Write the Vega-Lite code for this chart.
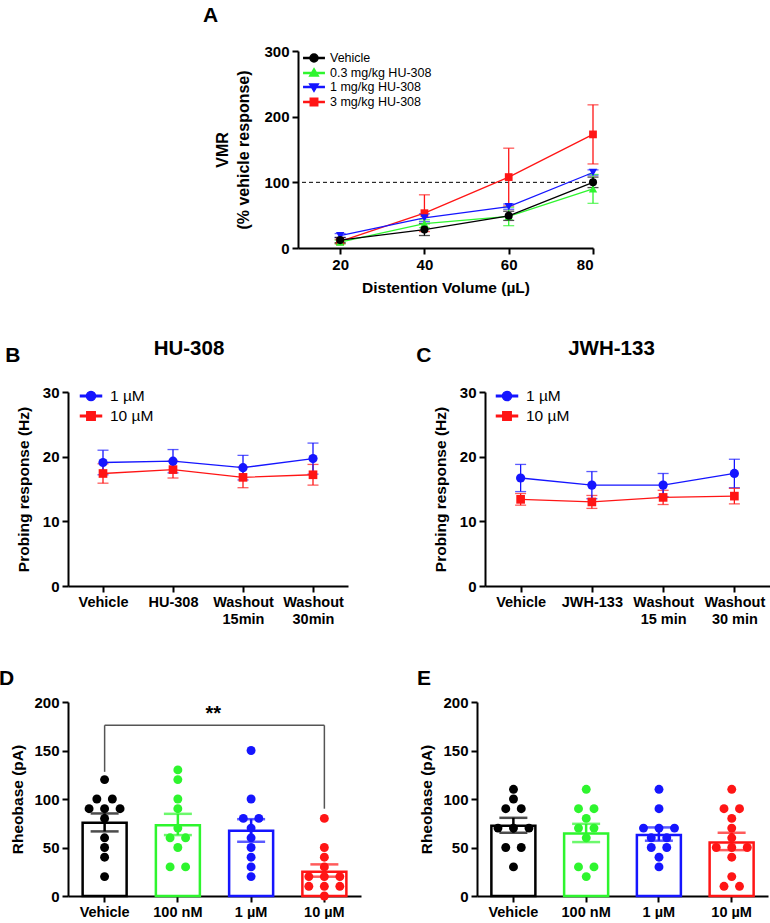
{
  "$schema": "https://vega.github.io/schema/vega-lite/v6.json",
  "background": "white",
  "padding": {"left": -2, "top": 5, "right": 0, "bottom": 0},
  "config": {
    "font": "Liberation Sans",
    "view": {"stroke": null},
    "axis": {"grid": false, "domainColor": "#000", "domainWidth": 2, "tickColor": "#000", "tickWidth": 2, "tickSize": 6, "labelFont": "Liberation Sans", "labelFontWeight": "bold", "labelFontSize": 15, "labelColor": "#000", "labelPadding": 3, "titleFont": "Liberation Sans", "titleFontWeight": "bold", "titleFontSize": 15.5, "titleColor": "#000"},
    "axisX": {"labelAngle": 0, "labelFontSize": 14.5},
    "title": {"font": "Liberation Sans", "fontWeight": "bold", "color": "#000"},
    "legend": {"labelFont": "Liberation Sans", "labelColor": "#000"}
  },
  "datasets": {
    "A": [
      {"group": "3 mg/kg HU-308", "volume": 20, "mean": 10, "lo": 7, "hi": 13},
      {"group": "3 mg/kg HU-308", "volume": 40, "mean": 53, "lo": 25, "hi": 81},
      {"group": "3 mg/kg HU-308", "volume": 60, "mean": 108, "lo": 64, "hi": 152},
      {"group": "3 mg/kg HU-308", "volume": 80, "mean": 173, "lo": 128, "hi": 218},
      {"group": "1 mg/kg HU-308", "volume": 20, "mean": 19, "lo": 16, "hi": 22},
      {"group": "1 mg/kg HU-308", "volume": 40, "mean": 46, "lo": 40, "hi": 52},
      {"group": "1 mg/kg HU-308", "volume": 60, "mean": 63, "lo": 59, "hi": 67},
      {"group": "1 mg/kg HU-308", "volume": 80, "mean": 115, "lo": 111, "hi": 119},
      {"group": "0.3 mg/kg HU-308", "volume": 20, "mean": 9, "lo": 6, "hi": 12},
      {"group": "0.3 mg/kg HU-308", "volume": 40, "mean": 37, "lo": 31, "hi": 43},
      {"group": "0.3 mg/kg HU-308", "volume": 60, "mean": 48, "lo": 34, "hi": 62},
      {"group": "0.3 mg/kg HU-308", "volume": 80, "mean": 90, "lo": 68, "hi": 112},
      {"group": "Vehicle", "volume": 20, "mean": 12, "lo": 8, "hi": 16},
      {"group": "Vehicle", "volume": 40, "mean": 28, "lo": 19, "hi": 37},
      {"group": "Vehicle", "volume": 60, "mean": 49, "lo": 42, "hi": 56},
      {"group": "Vehicle", "volume": 80, "mean": 100, "lo": 92, "hi": 108}
    ],
    "B": [
      {"conc": "10 µM", "cond": "Vehicle", "mean": 17.4, "lo": 15.9, "hi": 18.9},
      {"conc": "10 µM", "cond": "HU-308", "mean": 18.0, "lo": 16.7, "hi": 19.3},
      {"conc": "10 µM", "cond": "Washout\n15min", "mean": 16.8, "lo": 15.2, "hi": 18.4},
      {"conc": "10 µM", "cond": "Washout\n30min", "mean": 17.2, "lo": 15.6, "hi": 18.8},
      {"conc": "1 µM", "cond": "Vehicle", "mean": 19.1, "lo": 17.2, "hi": 21.0},
      {"conc": "1 µM", "cond": "HU-308", "mean": 19.3, "lo": 17.5, "hi": 21.1},
      {"conc": "1 µM", "cond": "Washout\n15min", "mean": 18.3, "lo": 16.4, "hi": 20.2},
      {"conc": "1 µM", "cond": "Washout\n30min", "mean": 19.7, "lo": 17.3, "hi": 22.1}
    ],
    "C": [
      {"conc": "10 µM", "cond": "Vehicle", "mean": 13.4, "lo": 12.5, "hi": 14.3},
      {"conc": "10 µM", "cond": "JWH-133", "mean": 13.0, "lo": 12.0, "hi": 14.0},
      {"conc": "10 µM", "cond": "Washout\n15 min", "mean": 13.7, "lo": 12.6, "hi": 14.8},
      {"conc": "10 µM", "cond": "Washout\n30 min", "mean": 13.9, "lo": 12.7, "hi": 15.1},
      {"conc": "1 µM", "cond": "Vehicle", "mean": 16.7, "lo": 14.6, "hi": 18.8},
      {"conc": "1 µM", "cond": "JWH-133", "mean": 15.6, "lo": 13.5, "hi": 17.7},
      {"conc": "1 µM", "cond": "Washout\n15 min", "mean": 15.6, "lo": 13.8, "hi": 17.4},
      {"conc": "1 µM", "cond": "Washout\n30 min", "mean": 17.4, "lo": 15.2, "hi": 19.6}
    ],
    "Dbar": [
      {"cond": "Vehicle", "mean": 75.5, "lo": 66.6, "hi": 85.1},
      {"cond": "100 nM", "mean": 73, "lo": 62.8, "hi": 84.7},
      {"cond": "1 µM", "mean": 67.2, "lo": 55.9, "hi": 79.2},
      {"cond": "10 µM", "mean": 25, "lo": 19.9, "hi": 32.6}
    ],
    "Dpts": [
      {"cond": "Vehicle", "value": 120}, {"cond": "Vehicle", "value": 100}, {"cond": "Vehicle", "value": 100},
      {"cond": "Vehicle", "value": 90}, {"cond": "Vehicle", "value": 90}, {"cond": "Vehicle", "value": 90},
      {"cond": "Vehicle", "value": 80}, {"cond": "Vehicle", "value": 60}, {"cond": "Vehicle", "value": 50},
      {"cond": "Vehicle", "value": 40}, {"cond": "Vehicle", "value": 20},
      {"cond": "100 nM", "value": 130}, {"cond": "100 nM", "value": 120}, {"cond": "100 nM", "value": 100},
      {"cond": "100 nM", "value": 90}, {"cond": "100 nM", "value": 70}, {"cond": "100 nM", "value": 60},
      {"cond": "100 nM", "value": 60}, {"cond": "100 nM", "value": 50}, {"cond": "100 nM", "value": 30},
      {"cond": "100 nM", "value": 30},
      {"cond": "1 µM", "value": 150}, {"cond": "1 µM", "value": 100}, {"cond": "1 µM", "value": 80},
      {"cond": "1 µM", "value": 80}, {"cond": "1 µM", "value": 70}, {"cond": "1 µM", "value": 60},
      {"cond": "1 µM", "value": 50}, {"cond": "1 µM", "value": 40}, {"cond": "1 µM", "value": 30},
      {"cond": "1 µM", "value": 20},
      {"cond": "10 µM", "value": 80}, {"cond": "10 µM", "value": 50}, {"cond": "10 µM", "value": 40},
      {"cond": "10 µM", "value": 30}, {"cond": "10 µM", "value": 20}, {"cond": "10 µM", "value": 20},
      {"cond": "10 µM", "value": 20}, {"cond": "10 µM", "value": 10}, {"cond": "10 µM", "value": 10},
      {"cond": "10 µM", "value": 10}, {"cond": "10 µM", "value": 0}
    ],
    "Ebar": [
      {"cond": "Vehicle", "mean": 72.4, "lo": 65.2, "hi": 80.6},
      {"cond": "100 nM", "mean": 64.5, "lo": 55.6, "hi": 74.4},
      {"cond": "1 µM", "mean": 62.8, "lo": 57, "hi": 70.7},
      {"cond": "10 µM", "mean": 55.2, "lo": 47.3, "hi": 65.2}
    ],
    "Epts": [
      {"cond": "Vehicle", "value": 110}, {"cond": "Vehicle", "value": 100}, {"cond": "Vehicle", "value": 90},
      {"cond": "Vehicle", "value": 90}, {"cond": "Vehicle", "value": 70}, {"cond": "Vehicle", "value": 70},
      {"cond": "Vehicle", "value": 70}, {"cond": "Vehicle", "value": 50}, {"cond": "Vehicle", "value": 50},
      {"cond": "Vehicle", "value": 30},
      {"cond": "100 nM", "value": 110}, {"cond": "100 nM", "value": 90}, {"cond": "100 nM", "value": 90},
      {"cond": "100 nM", "value": 80}, {"cond": "100 nM", "value": 70}, {"cond": "100 nM", "value": 70},
      {"cond": "100 nM", "value": 60}, {"cond": "100 nM", "value": 30}, {"cond": "100 nM", "value": 30},
      {"cond": "100 nM", "value": 20},
      {"cond": "1 µM", "value": 110}, {"cond": "1 µM", "value": 90}, {"cond": "1 µM", "value": 70},
      {"cond": "1 µM", "value": 70}, {"cond": "1 µM", "value": 70}, {"cond": "1 µM", "value": 60},
      {"cond": "1 µM", "value": 60}, {"cond": "1 µM", "value": 50}, {"cond": "1 µM", "value": 50},
      {"cond": "1 µM", "value": 40}, {"cond": "1 µM", "value": 30},
      {"cond": "10 µM", "value": 110}, {"cond": "10 µM", "value": 90}, {"cond": "10 µM", "value": 90},
      {"cond": "10 µM", "value": 80}, {"cond": "10 µM", "value": 70}, {"cond": "10 µM", "value": 60},
      {"cond": "10 µM", "value": 50}, {"cond": "10 µM", "value": 50}, {"cond": "10 µM", "value": 50},
      {"cond": "10 µM", "value": 40}, {"cond": "10 µM", "value": 20}, {"cond": "10 µM", "value": 10},
      {"cond": "10 µM", "value": 10}
    ]
  },
  "resolve": {"scale": {"color": "independent", "shape": "independent", "stroke": "independent"}},
  "spacing": 42,
  "vconcat": [
    {
      "spacing": 0,
      "resolve": {"scale": {"color": "independent", "shape": "independent"}},
      "hconcat": [
        {"width": 134, "height": 10, "data": {"values": [{}]}, "mark": {"type": "point", "opacity": 0}, "encoding": {}},
        {
          "title": {"text": "A", "anchor": "start", "frame": "bounds", "fontSize": 21, "offset": 18, "dx": -12},
          "width": 295,
          "height": 197,
          "data": {"name": "A"},
          "encoding": {
            "x": {"field": "volume", "type": "quantitative", "scale": {"domain": [10, 80], "nice": false}, "axis": {"values": [20, 40, 60, 80], "titlePadding": 8, "labelFontSize": 15}, "title": "Distention Volume (µL)"},
            "color": {"field": "group", "type": "nominal", "scale": {"domain": ["Vehicle", "0.3 mg/kg HU-308", "1 mg/kg HU-308", "3 mg/kg HU-308"], "range": ["#000000", "#2ef52e", "#1515ff", "#ff1515"]}, "legend": {"title": null, "orient": "none", "legendX": 9, "legendY": 0, "symbolSize": 144, "labelFontSize": 12.5, "labelOffset": 9, "rowPadding": -7, "padding": 0, "symbolOpacity": 1}}
          },
          "layer": [
            {
              "data": {"values": [{"ref": 100}]},
              "mark": {"type": "rule", "strokeDash": [4, 3], "strokeWidth": 1, "color": "#000"},
              "encoding": {"x": null, "color": null, "y": {"field": "ref", "type": "quantitative", "scale": {"domain": [0, 300], "nice": false}, "axis": {"values": [0, 100, 200, 300], "titleFontSize": 16, "titlePadding": 12, "titleLineHeight": 21}, "title": ["VMR", "(% vehicle response)"]}}
            },
            {
              "mark": {"type": "errorbar", "ticks": true, "size": 11, "thickness": 1.3},
              "encoding": {
                "y": {"field": "lo", "type": "quantitative", "title": ["VMR", "(% vehicle response)"]},
                "y2": {"field": "hi"}
              }
            },
            {
              "mark": {"type": "line", "strokeWidth": 1.3},
              "encoding": {"y": {"field": "mean", "type": "quantitative", "title": ["VMR", "(% vehicle response)"]}}
            },
            {
              "transform": [{"filter": "datum.group === '3 mg/kg HU-308'"}],
              "mark": {"type": "point", "filled": true, "shape": "square", "size": 60, "opacity": 1},
              "encoding": {"y": {"field": "mean", "type": "quantitative", "title": ["VMR", "(% vehicle response)"]}}
            },
            {
              "transform": [{"filter": "datum.group === '1 mg/kg HU-308'"}],
              "mark": {"type": "point", "filled": true, "shape": "triangle-down", "size": 70, "opacity": 1},
              "encoding": {"y": {"field": "mean", "type": "quantitative", "title": ["VMR", "(% vehicle response)"]}}
            },
            {
              "transform": [{"filter": "datum.group === '0.3 mg/kg HU-308'"}],
              "mark": {"type": "point", "filled": true, "shape": "triangle-up", "size": 70, "opacity": 1},
              "encoding": {"y": {"field": "mean", "type": "quantitative", "title": ["VMR", "(% vehicle response)"]}}
            },
            {
              "transform": [{"filter": "datum.group === 'Vehicle'"}],
              "mark": {"type": "point", "filled": true, "shape": "circle", "size": 65, "opacity": 1},
              "encoding": {"y": {"field": "mean", "type": "quantitative", "title": ["VMR", "(% vehicle response)"]}}
            },
            {
              "mark": {"type": "point", "filled": true, "size": 65, "opacity": 0},
              "encoding": {
                "y": {"field": "mean", "type": "quantitative", "title": ["VMR", "(% vehicle response)"]},
                "shape": {"field": "group", "type": "nominal", "scale": {"domain": ["Vehicle", "0.3 mg/kg HU-308", "1 mg/kg HU-308", "3 mg/kg HU-308"], "range": [
                  "M-1.7,-0.1H-0.5V0.1H-1.7Z M0.5,-0.1H1.7V0.1H0.5Z M0.67,0A0.67,0.67,0,1,1,-0.67,0A0.67,0.67,0,1,1,0.67,0Z",
                  "M-1.7,-0.1H-0.5V0.1H-1.7Z M0.5,-0.1H1.7V0.1H0.5Z M0,-0.72L0.72,0.5L-0.72,0.5Z",
                  "M-1.7,-0.1H-0.5V0.1H-1.7Z M0.5,-0.1H1.7V0.1H0.5Z M0,0.72L-0.72,-0.5L0.72,-0.5Z",
                  "M-1.7,-0.1H-0.5V0.1H-1.7Z M0.5,-0.1H1.7V0.1H0.5Z M-0.62,-0.62H0.62V0.62H-0.62Z"
                ]}, "legend": {"title": null, "orient": "none", "legendX": 9, "legendY": 0, "symbolSize": 144, "labelFontSize": 12.5, "labelOffset": 9, "rowPadding": -7, "padding": 0, "symbolOpacity": 1}}
              }
            }
          ]
        }
      ]
    },
    {
      "spacing": 68,
      "resolve": {"scale": {"color": "independent", "shape": "independent"}},
      "hconcat": [
        {
          "title": {"text": "B", "anchor": "start", "frame": "bounds", "fontSize": 21, "dx": -11, "dy": 31},
          "resolve": {"scale": {"color": "independent", "shape": "independent"}},
          "vconcat": [
            {
              "title": {"text": "HU-308", "fontSize": 20.5, "dx": -19, "offset": 26},
              "width": 280,
              "height": 194,
              "data": {"name": "B"},
              "encoding": {
                "x": {"field": "cond", "type": "ordinal", "scale": {"type": "point", "padding": 0.5, "domain": ["Vehicle", "HU-308", "Washout\n15min", "Washout\n30min"]}, "axis": {"labelExpr": "split(datum.label, '\\n')", "title": null, "labelLineHeight": 17}},
                "color": {"field": "conc", "type": "nominal", "scale": {"domain": ["1 µM", "10 µM"], "range": ["#1515ff", "#ff1515"]}, "legend": {"title": null, "orient": "none", "legendX": 15, "legendY": -4, "symbolSize": 196, "labelFontSize": 15.5, "labelOffset": 11, "rowPadding": 3, "padding": 0, "symbolOpacity": 1}}
              },
              "layer": [
                {"mark": {"type": "errorbar", "ticks": true, "size": 11, "thickness": 1.3}, "encoding": {"y": {"field": "lo", "type": "quantitative", "scale": {"domain": [0, 30], "nice": false}, "axis": {"values": [0, 10, 20, 30], "titlePadding": 11}, "title": "Probing response (Hz)"}, "y2": {"field": "hi"}}},
                {"mark": {"type": "line", "strokeWidth": 1.3}, "encoding": {"y": {"field": "mean", "type": "quantitative", "title": "Probing response (Hz)"}}},
                {"transform": [{"filter": "datum.conc === '10 µM'"}], "mark": {"type": "point", "filled": true, "shape": "square", "size": 75, "opacity": 1}, "encoding": {"y": {"field": "mean", "type": "quantitative", "title": "Probing response (Hz)"}}},
                {"transform": [{"filter": "datum.conc === '1 µM'"}], "mark": {"type": "point", "filled": true, "shape": "circle", "size": 85, "opacity": 1}, "encoding": {"y": {"field": "mean", "type": "quantitative", "title": "Probing response (Hz)"}}},
                {"mark": {"type": "point", "filled": true, "size": 80, "opacity": 0},
                 "encoding": {
                   "y": {"field": "mean", "type": "quantitative", "title": "Probing response (Hz)"},
                   "shape": {"field": "conc", "type": "nominal", "scale": {"domain": ["1 µM", "10 µM"], "range": [
                     "M-1.5,-0.09H-0.5V0.09H-1.5Z M0.5,-0.09H1.5V0.09H0.5Z M0.65,0A0.65,0.65,0,1,1,-0.65,0A0.65,0.65,0,1,1,0.65,0Z",
                     "M-1.5,-0.09H-0.5V0.09H-1.5Z M0.5,-0.09H1.5V0.09H0.5Z M-0.6,-0.6H0.6V0.6H-0.6Z"
                   ]}, "legend": {"title": null, "orient": "none", "legendX": 15, "legendY": -4, "symbolSize": 196, "labelFontSize": 15.5, "labelOffset": 11, "rowPadding": 3, "padding": 0, "symbolOpacity": 1}}
                 }}
              ]
            }
          ]
        },
        {
          "title": {"text": "C", "anchor": "start", "frame": "bounds", "fontSize": 21, "dx": -17, "dy": 31},
          "resolve": {"scale": {"color": "independent", "shape": "independent"}},
          "vconcat": [
            {
              "title": {"text": "JWH-133", "fontSize": 20.5, "dx": -16, "offset": 26},
              "width": 285,
              "height": 194,
              "data": {"name": "C"},
              "encoding": {
                "x": {"field": "cond", "type": "ordinal", "scale": {"type": "point", "padding": 0.5, "domain": ["Vehicle", "JWH-133", "Washout\n15 min", "Washout\n30 min"]}, "axis": {"labelExpr": "split(datum.label, '\\n')", "title": null, "labelLineHeight": 17}},
                "color": {"field": "conc", "type": "nominal", "scale": {"domain": ["1 µM", "10 µM"], "range": ["#1515ff", "#ff1515"]}, "legend": {"title": null, "orient": "none", "legendX": 14, "legendY": -4, "symbolSize": 196, "labelFontSize": 15.5, "labelOffset": 11, "rowPadding": 3, "padding": 0, "symbolOpacity": 1}}
              },
              "layer": [
                {"mark": {"type": "errorbar", "ticks": true, "size": 11, "thickness": 1.3}, "encoding": {"y": {"field": "lo", "type": "quantitative", "scale": {"domain": [0, 30], "nice": false}, "axis": {"values": [0, 10, 20, 30], "titlePadding": 11}, "title": "Probing response (Hz)"}, "y2": {"field": "hi"}}},
                {"mark": {"type": "line", "strokeWidth": 1.3}, "encoding": {"y": {"field": "mean", "type": "quantitative", "title": "Probing response (Hz)"}}},
                {"transform": [{"filter": "datum.conc === '10 µM'"}], "mark": {"type": "point", "filled": true, "shape": "square", "size": 75, "opacity": 1}, "encoding": {"y": {"field": "mean", "type": "quantitative", "title": "Probing response (Hz)"}}},
                {"transform": [{"filter": "datum.conc === '1 µM'"}], "mark": {"type": "point", "filled": true, "shape": "circle", "size": 85, "opacity": 1}, "encoding": {"y": {"field": "mean", "type": "quantitative", "title": "Probing response (Hz)"}}},
                {"mark": {"type": "point", "filled": true, "size": 80, "opacity": 0},
                 "encoding": {
                   "y": {"field": "mean", "type": "quantitative", "title": "Probing response (Hz)"},
                   "shape": {"field": "conc", "type": "nominal", "scale": {"domain": ["1 µM", "10 µM"], "range": [
                     "M-1.5,-0.09H-0.5V0.09H-1.5Z M0.5,-0.09H1.5V0.09H0.5Z M0.65,0A0.65,0.65,0,1,1,-0.65,0A0.65,0.65,0,1,1,0.65,0Z",
                     "M-1.5,-0.09H-0.5V0.09H-1.5Z M0.5,-0.09H1.5V0.09H0.5Z M-0.6,-0.6H0.6V0.6H-0.6Z"
                   ]}, "legend": {"title": null, "orient": "none", "legendX": 14, "legendY": -4, "symbolSize": 196, "labelFontSize": 15.5, "labelOffset": 11, "rowPadding": 3, "padding": 0, "symbolOpacity": 1}}
                 }}
              ]
            }
          ]
        }
      ]
    },
    {
      "spacing": 55,
      "resolve": {"scale": {"color": "independent", "shape": "independent", "stroke": "independent"}},
      "hconcat": [
        {
          "title": {"text": "D", "anchor": "start", "frame": "bounds", "fontSize": 21, "dx": -12, "offset": 6},
          "width": 293,
          "height": 194,
          "layer": [
            {
              "data": {"name": "Dbar"},
              "mark": {"type": "bar", "fill": "white", "strokeWidth": 2.5, "width": 44},
              "encoding": {
                "x": {"field": "cond", "type": "nominal", "scale": {"domain": ["Vehicle", "100 nM", "1 µM", "10 µM"], "paddingInner": 0.36, "paddingOuter": 0.18}, "axis": {"title": null}},
                "y": {"field": "mean", "type": "quantitative", "scale": {"domain": [0, 200], "nice": false}, "axis": {"values": [0, 50, 100, 150, 200], "titlePadding": 8}, "title": "Rheobase (pA)"},
                "stroke": {"field": "cond", "type": "nominal", "scale": {"domain": ["Vehicle", "100 nM", "1 µM", "10 µM"], "range": ["#000000", "#2ef52e", "#1515ff", "#ff1515"]}, "legend": null}
              }
            },
            {
              "data": {"name": "Dbar"},
              "mark": {"type": "errorbar", "ticks": true, "size": 28, "thickness": 2.5},
              "encoding": {
                "x": {"field": "cond", "type": "nominal", "title": null},
                "y": {"field": "lo", "type": "quantitative", "title": "Rheobase (pA)"},
                "y2": {"field": "hi"},
                "color": {"field": "cond", "type": "nominal", "scale": {"domain": ["Vehicle", "100 nM", "1 µM", "10 µM"], "range": ["#000000", "#2ef52e", "#1515ff", "#ff1515"]}, "legend": null}
              }
            },
            {
              "data": {"name": "Dpts"},
              "transform": [
                {"window": [{"op": "row_number", "as": "k"}], "groupby": ["cond", "value"]},
                {"joinaggregate": [{"op": "count", "as": "n"}], "groupby": ["cond", "value"]},
                {"calculate": "datum.k - (datum.n + 1) / 2", "as": "off"}
              ],
              "mark": {"type": "circle", "size": 80, "opacity": 1},
              "encoding": {
                "x": {"field": "cond", "type": "nominal", "title": null},
                "xOffset": {"field": "off", "type": "quantitative", "scale": {"domain": [-1, 1], "range": [7.9, 38.9]}},
                "y": {"field": "value", "type": "quantitative", "title": "Rheobase (pA)"},
                "color": {"field": "cond", "type": "nominal", "legend": null}
              }
            },
            {
              "data": {"values": [{"cond": "Vehicle", "y": 128, "y2": 176}, {"cond": "10 µM", "y": 90, "y2": 176}]},
              "mark": {"type": "rule", "color": "#555555", "strokeWidth": 1.5},
              "encoding": {
                "x": {"field": "cond", "type": "nominal", "bandPosition": 0.5, "title": null},
                "y": {"field": "y", "type": "quantitative", "title": "Rheobase (pA)"},
                "y2": {"field": "y2"}
              }
            },
            {
              "data": {"values": [{"a": "Vehicle", "b": "10 µM", "y": 176}]},
              "mark": {"type": "rule", "color": "#555555", "strokeWidth": 1.5},
              "encoding": {
                "x": {"field": "a", "type": "nominal", "bandPosition": 0.5, "title": null},
                "x2": {"field": "b", "bandPosition": 0.5},
                "y": {"field": "y", "type": "quantitative", "title": "Rheobase (pA)"}
              }
            },
            {
              "data": {"values": [{"cond": "100 nM", "y": 188, "label": "**"}]},
              "mark": {"type": "text", "fontSize": 20, "fontWeight": "bold", "dx": 12, "baseline": "middle", "color": "#000"},
              "encoding": {
                "x": {"field": "cond", "type": "nominal", "bandPosition": 1, "title": null},
                "y": {"field": "y", "type": "quantitative", "title": "Rheobase (pA)"},
                "text": {"field": "label"}
              }
            }
          ]
        },
        {
          "title": {"text": "E", "anchor": "start", "frame": "bounds", "fontSize": 21, "dx": -3, "offset": 6},
          "width": 291,
          "height": 194,
          "layer": [
            {
              "data": {"name": "Ebar"},
              "mark": {"type": "bar", "fill": "white", "strokeWidth": 2.5, "width": 44},
              "encoding": {
                "x": {"field": "cond", "type": "nominal", "scale": {"domain": ["Vehicle", "100 nM", "1 µM", "10 µM"], "paddingInner": 0.36, "paddingOuter": 0.18}, "axis": {"title": null}},
                "y": {"field": "mean", "type": "quantitative", "scale": {"domain": [0, 200], "nice": false}, "axis": {"values": [0, 50, 100, 150, 200], "titlePadding": 8}, "title": "Rheobase (pA)"},
                "stroke": {"field": "cond", "type": "nominal", "scale": {"domain": ["Vehicle", "100 nM", "1 µM", "10 µM"], "range": ["#000000", "#2ef52e", "#1515ff", "#ff1515"]}, "legend": null}
              }
            },
            {
              "data": {"name": "Ebar"},
              "mark": {"type": "errorbar", "ticks": true, "size": 28, "thickness": 2.5},
              "encoding": {
                "x": {"field": "cond", "type": "nominal", "title": null},
                "y": {"field": "lo", "type": "quantitative", "title": "Rheobase (pA)"},
                "y2": {"field": "hi"},
                "color": {"field": "cond", "type": "nominal", "scale": {"domain": ["Vehicle", "100 nM", "1 µM", "10 µM"], "range": ["#000000", "#2ef52e", "#1515ff", "#ff1515"]}, "legend": null}
              }
            },
            {
              "data": {"name": "Epts"},
              "transform": [
                {"window": [{"op": "row_number", "as": "k"}], "groupby": ["cond", "value"]},
                {"joinaggregate": [{"op": "count", "as": "n"}], "groupby": ["cond", "value"]},
                {"calculate": "datum.k - (datum.n + 1) / 2", "as": "off"}
              ],
              "mark": {"type": "circle", "size": 80, "opacity": 1},
              "encoding": {
                "x": {"field": "cond", "type": "nominal", "title": null},
                "xOffset": {"field": "off", "type": "quantitative", "scale": {"domain": [-1, 1], "range": [7.8, 38.8]}},
                "y": {"field": "value", "type": "quantitative", "title": "Rheobase (pA)"},
                "color": {"field": "cond", "type": "nominal", "legend": null}
              }
            }
          ]
        }
      ]
    }
  ]
}
